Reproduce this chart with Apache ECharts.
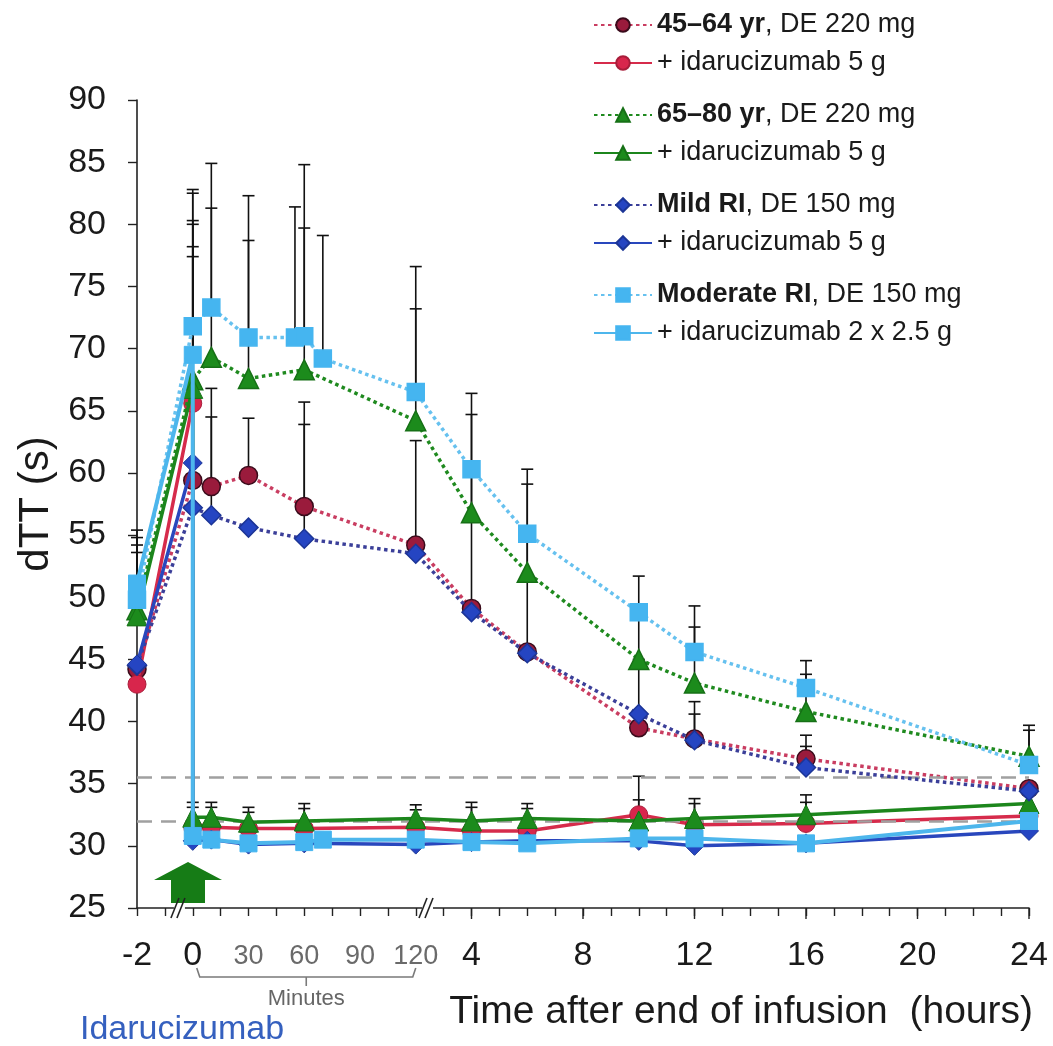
<!DOCTYPE html>
<html><head><meta charset="utf-8">
<script src="https://cdn.jsdelivr.net/npm/echarts@6/dist/echarts.min.js"></script>
<style>html,body{margin:0;padding:0;background:#fff}#c{width:1053px;height:1046px}</style>
</head><body><div id="c"></div>
<script>
// ---------- DATA (times in hours; minutes written as m/60) ----------
const tDE     = [-2, 0, 10/60, 30/60, 60/60, 120/60, 4, 6, 10, 12, 16, 24];
const tIda    = [-2, 0, 0, 10/60, 30/60, 60/60, 120/60, 4, 6, 10, 12, 16, 24];
const tModDE  = [-2, 0, 10/60, 30/60, 55/60, 60/60, 70/60, 120/60, 4, 6, 10, 12, 16, 24];
const tModIda = [-2, 0, 0, 10/60, 30/60, 60/60, 70/60, 120/60, 4, 6, 10, 12, 16, 24];

const y45DE    = [44.2, 59.4, 58.9, 59.8, 57.3, 54.2, 49.1, 45.6, 39.5, 38.6, 37.0, 34.6];
const y45Ida   = [43.0, 65.6, 31.5, 31.5, 31.4, 31.4, 31.5, 31.2, 31.2, 32.5, 31.7, 31.8, 32.4];
const y65DE    = [49.0, 67.5, 69.3, 67.6, 68.3, 64.2, 56.8, 52.0, 45.0, 43.1, 40.8, 37.2];
const y65Ida   = [48.5, 66.8, 32.3, 32.3, 31.9, 32.0, 32.2, 32.0, 32.2, 32.0, 32.2, 32.5, 33.4];
const yMildDE  = [44.5, 57.2, 56.6, 55.6, 54.7, 53.5, 48.8, 45.5, 40.6, 38.5, 36.3, 34.4];
const yMildIda = [44.6, 60.8, 30.4, 30.5, 30.1, 30.2, 30.1, 30.3, 30.4, 30.4, 30.0, 30.2, 31.2];
const yModDE   = [49.8, 71.8, 73.3, 70.9, 70.9, 71.0, 69.2, 66.5, 60.3, 55.1, 48.8, 45.6, 42.7, 36.5];
const yModIda  = [51.1, 69.5, 30.8, 30.5, 30.2, 30.3, 30.5, 30.5, 30.3, 30.2, 30.6, 30.6, 30.2, 32.0];

// upper ends of error bars (mean + SD); null = not shown
const e45DE    = [null, 77.4, 66.8, 64.4, 65.7, 62.6, 60.2, 55.0, null, 41.6, 38.9, null];
const e45Ida   = [null, null, 33.1, 33.1, 32.7, 33.0, 32.9, 33.1, 33.0, 35.6, 33.4, 33.5, null];
const e65DE    = [54.2, 80.3, 81.3, 78.7, 79.7, 73.2, 64.7, 59.1, 48.7, 47.6, 43.8, 39.7];
const e65Ida   = [53.6, 80.0, 33.5, 33.5, 33.1, 33.4, 33.3, 33.5, 33.4, 33.7, 33.8, 34.1, null];
const eMildDE  = [null, null, 64.5, null, 63.9, null, null, null, 45.0, 40.6, 38.0, null];
const eMildIda = [null, 78.2, null, null, null, null, null, null, null, null, null, null, null];
const eModDE   = [54.8, 82.8, 84.9, 82.3, 81.4, 84.8, 79.1, 76.6, 66.4, 60.3, 51.7, 49.3, 44.9, 39.3];
const eModIda  = [55.4, 82.5, null, null, null, null, null, null, null, null, null, null, null, null];

// reference lines (s)
const refLines = [35.5, 32.0];

// legend texts
const groupNames = ['45\u201364 yr', '65\u201380 yr', 'Mild RI', 'Moderate RI'];
const deDoses    = ['DE 220 mg', 'DE 220 mg', 'DE 150 mg', 'DE 150 mg'];
const idaDoses   = ['+ idarucizumab 5 g', '+ idarucizumab 5 g', '+ idarucizumab 5 g', '+ idarucizumab 2 x 2.5 g'];

// x tick labels (hours before 0, minutes 0-120, hours after)
const hourLabelsBefore = [-2, 0];
const minuteLabels = [30, 60, 90, 120];
const hourLabelsAfter = [4, 8, 12, 16, 20, 24];
const yTicks = {min: 25, max: 90, interval: 5};

// ---------- broken time axis: hours (-2..0) | minutes (0..120, stretched x4) | hours (2..24) ----------
const toAxis = t => t <= 0 ? t : (t <= 2 ? t * 4 : t + 6);
const fromAxis = u => u <= 0 ? {v: u, kind: 'h'} : (u <= 8 ? {v: u * 15, kind: 'm'} : {v: u - 6, kind: 'h'});

const FONT = '"Liberation Sans", Arial, sans-serif';

const styles = [
  {de: {line: '#c93d61', fill: '#9a1b3c', border: '#3a0b1b'}, ida: {line: '#d62b4b', fill: '#d8264c', border: '#a81d3a'}, symbol: 'circle', size: 18},
  {de: {line: '#1f8a1f', fill: '#1c8b1c', border: '#167016'}, ida: {line: '#1c861c', fill: '#1c8b1c', border: '#167016'}, symbol: 'triangle', size: 20},
  {de: {line: '#3b3f99', fill: '#2545c2', border: '#1c3596'}, ida: {line: '#2947bd', fill: '#2545c2', border: '#1c3596'}, symbol: 'diamond', size: 19},
  {de: {line: '#66c1ef', fill: '#45b5f0', border: '#45b5f0'}, ida: {line: '#4db6ec', fill: '#45b5f0', border: '#45b5f0'}, symbol: 'rect', size: 17}
];

const groups = [
  {tDE: tDE, yDE: y45DE, eDE: e45DE, tIda: tIda, yIda: y45Ida, eIda: e45Ida},
  {tDE: tDE, yDE: y65DE, eDE: e65DE, tIda: tIda, yIda: y65Ida, eIda: e65Ida},
  {tDE: tDE, yDE: yMildDE, eDE: eMildDE, tIda: tIda, yIda: yMildIda, eIda: eMildIda},
  {tDE: tModDE, yDE: yModDE, eDE: eModDE, tIda: tModIda, yIda: yModIda, eIda: eModIda}
];

const pairs = (ts, ys) => ts.map((t, i) => [toAxis(t), ys[i]]);
const errData = [];
groups.forEach(g => {
  g.tDE.forEach((t, i) => { if (g.eDE[i] != null) errData.push([toAxis(t), g.yDE[i], g.eDE[i]]); });
  g.tIda.forEach((t, i) => { if (g.eIda[i] != null) errData.push([toAxis(t), g.yIda[i], g.eIda[i]]); });
});

const legendText = {};
const series = [];
series.push({
  type: 'custom', name: 'err', z: 1, silent: true, animation: false,
  dimensions: ['x', 'y', 'top'],
  encode: {x: 0, y: 1},
  data: errData,
  renderItem: (params, api) => {
    const x = api.value(0), y = api.value(1), top = api.value(2);
    const p0 = api.coord([x, y]), p1 = api.coord([x, top]);
    const w = 6;
    return {type: 'group', children: [
      {type: 'line', shape: {x1: p0[0], y1: p0[1], x2: p1[0], y2: p1[1]}, style: {stroke: '#111', lineWidth: 1.6}},
      {type: 'line', shape: {x1: p1[0] - w, y1: p1[1], x2: p1[0] + w, y2: p1[1]}, style: {stroke: '#111', lineWidth: 1.6}}
    ]};
  },
  markLine: {
    silent: true, symbol: 'none', label: {show: false}, animation: false,
    lineStyle: {type: [15, 9], color: '#a0a0a0', width: 2.5},
    data: refLines.map(v => ({yAxis: v}))
  }
});

groups.forEach((g, k) => {
  const s = styles[k];
  const nDE = 'g' + k + 'DE', nIda = 'g' + k + 'Ida';
  legendText[nDE] = '{b|' + groupNames[k] + '}, ' + deDoses[k];
  legendText[nIda] = idaDoses[k];
  series.push({
    type: 'line', name: nDE, data: pairs(g.tDE, g.yDE), z: 3 + k * 2, animation: false,
    symbol: s.symbol, symbolSize: s.size, showAllSymbol: true,
    lineStyle: {color: s.de.line, width: 3.5, type: [3.5, 3.5]},
    itemStyle: {color: s.de.fill, borderColor: s.de.border, borderWidth: 1.5, opacity: 1}
  });
  series.push({
    type: 'line', name: nIda, data: pairs(g.tIda, g.yIda), z: 4 + k * 2, animation: false,
    symbol: s.symbol, symbolSize: s.size, showAllSymbol: true,
    lineStyle: {color: s.ida.line, width: k === 3 ? 4 : 3.5, type: 'solid'},
    itemStyle: {color: s.ida.fill, borderColor: s.ida.border, borderWidth: 1, opacity: 1}
  });
});

const legendTops = [5, 95, 185, 275];
const legends = legendTops.map((top, k) => ({
  data: ['g' + k + 'DE', 'g' + k + 'Ida'],
  orient: 'vertical', left: 588, top: top, itemWidth: 58, itemHeight: 17, itemGap: 8,
  selectedMode: false,
  formatter: n => legendText[n],
  textStyle: {fontFamily: FONT, fontSize: 27, color: '#1a1a1a', lineHeight: 30,
    rich: {b: {fontFamily: FONT, fontSize: 27, fontWeight: 'bold', color: '#1a1a1a', lineHeight: 30}}}
}));

const labelUnits = [...hourLabelsBefore.map(toAxis), ...minuteLabels.map(m => toAxis(m / 60)), ...hourLabelsAfter.map(toAxis)];
const tickUnits = [];
for (let u = toAxis(-2); u <= toAxis(24); u++) tickUnits.push(u);

const option = {
  backgroundColor: '#fff',
  animation: false,
  grid: {left: 137, right: 24, top: 100, bottom: 138, containLabel: false},
  legend: legends,
  xAxis: {
    type: 'value', min: toAxis(-2), max: toAxis(24),
    splitLine: {show: false},
    axisLine: {show: true, onZero: false, lineStyle: {color: '#222', width: 1.6}},
    axisTick: {show: true, customValues: tickUnits, length: 8, lineStyle: {color: '#222', width: 1.4}},
    axisLabel: {
      customValues: labelUnits, margin: 31, fontFamily: FONT, fontSize: 34, color: '#1a1a1a',
      formatter: u => { const r = fromAxis(u); return r.kind === 'm' && r.v > 0 ? '{m|' + Math.round(r.v) + '}' : String(Math.round(r.v)); },
      rich: {m: {fontFamily: FONT, fontSize: 27, color: '#6a6a6a', padding: [4, 0, 0, 0]}}
    }
  },
  yAxis: {
    type: 'value', min: yTicks.min, max: yTicks.max, interval: yTicks.interval,
    splitLine: {show: false},
    axisLine: {show: true, onZero: false, lineStyle: {color: '#222', width: 1.6}},
    axisTick: {show: true, length: 9, lineStyle: {color: '#222', width: 1.4}},
    axisLabel: {margin: 31, fontFamily: FONT, fontSize: 34, color: '#1a1a1a'},
    name: 'dTT (s)', nameLocation: 'middle', nameGap: 78, nameRotate: 90,
    nameTextStyle: {fontFamily: FONT, fontSize: 42, color: '#1a1a1a'}
  },
  series: series
};

const chart = echarts.init(document.getElementById('c'));
chart.setOption(option);

// ---------- decorations placed through the axes ----------
const px = (u, v) => chart.convertToPixel({gridIndex: 0}, [u, v]);
const axisY = px(0, yTicks.min)[1];
const breakUnits = [-0.46, 8.44];
const arrowTime = -0.17; // hours
const majorTickHours = [4, 8, 12, 16, 20, 24];
const g = [];
// longer ticks at labelled hours
majorTickHours.forEach(h => {
  const x = px(toAxis(h), yTicks.min)[0];
  g.push({type: 'line', shape: {x1: x, y1: axisY, x2: x, y2: axisY + 11}, style: {stroke: '#222', lineWidth: 1.4}});
});
breakUnits.forEach(u => {
  const x = px(u, yTicks.min)[0];
  g.push({type: 'rect', shape: {x: x - 6, y: axisY - 3, width: 11, height: 6}, style: {fill: '#fff'}, z: 50});
  g.push({type: 'line', shape: {x1: x - 9, y1: axisY + 10, x2: x - 1, y2: axisY - 10}, style: {stroke: '#222', lineWidth: 1.6}, z: 51});
  g.push({type: 'line', shape: {x1: x - 3, y1: axisY + 10, x2: x + 5, y2: axisY - 10}, style: {stroke: '#222', lineWidth: 1.6}, z: 51});
});
// green arrow (idarucizumab administration)
const ax = px(toAxis(arrowTime), yTicks.min)[0];
g.push({type: 'polygon', z: 40, shape: {points: [
  [ax - 34, axisY - 28], [ax, axisY - 46], [ax + 34, axisY - 28], [ax + 17, axisY - 28],
  [ax + 17, axisY - 5], [ax - 17, axisY - 5], [ax - 17, axisY - 28]]}, style: {fill: '#167c16'}});
// minutes bracket
const bx0 = px(toAxis(0), yTicks.min)[0] + 4, bx1 = px(toAxis(2), yTicks.min)[0];
const by = axisY + 69;
g.push({type: 'polyline', shape: {points: [[bx0, by - 9], [bx0 + 3, by], [bx1 - 3, by], [bx1, by - 9]]}, style: {stroke: '#7a7a7a', lineWidth: 1.6, fill: null}});
g.push({type: 'line', shape: {x1: (bx0 + bx1) / 2, y1: by, x2: (bx0 + bx1) / 2, y2: by + 9}, style: {stroke: '#7a7a7a', lineWidth: 1.6}});
g.push({type: 'text', x: (bx0 + bx1) / 2, y: by + 22, style: {text: 'Minutes', font: '22px ' + FONT, fill: '#666', align: 'center', verticalAlign: 'middle'}});
// axis title and note
g.push({type: 'text', x: 1033, y: 1012, style: {text: 'Time after end of infusion  (hours)', font: '39px ' + FONT, fill: '#1a1a1a', align: 'right', verticalAlign: 'middle'}});
g.push({type: 'text', x: 80, y: 1030, style: {text: 'Idarucizumab', font: '34px ' + FONT, fill: '#3560bf', align: 'left', verticalAlign: 'middle'}});
chart.setOption({graphic: g});
</script>
</body></html>
